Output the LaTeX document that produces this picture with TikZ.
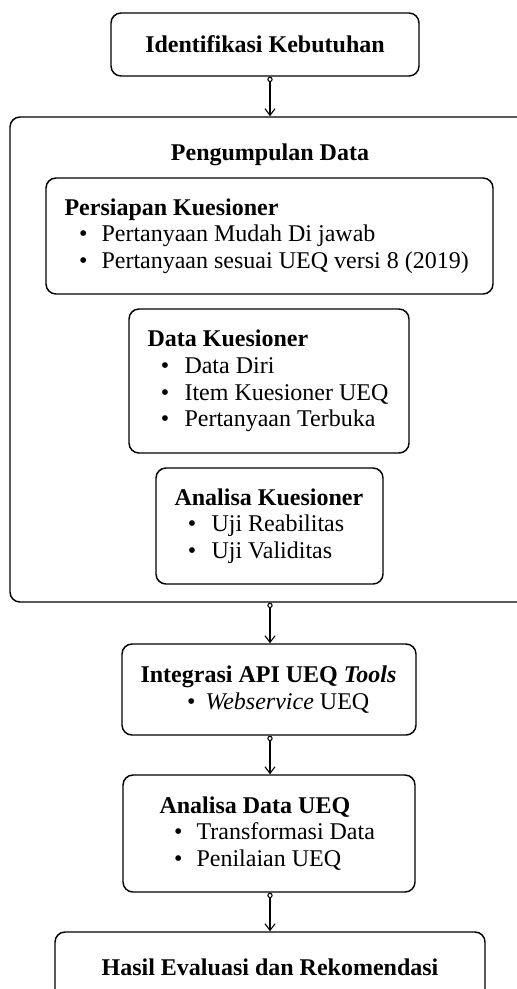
\documentclass[tikz,border=0pt]{standalone}
\usepackage{fontspec}
\setmainfont{Liberation Serif}
\usetikzlibrary{arrows.meta}

% bullet item: #1 text offset, #2 bullet indent, #3 text
\newcommand{\butir}[3][27.75pt]{\makebox[#1][l]{\hspace*{#2}\textbullet}#3}

\tikzset{
  kotak/.style={draw, rounded corners=7.5pt, line width=1.1pt, inner sep=0pt},
  isi/.style={align=left, anchor=west, inner sep=0pt, font=\fontsize{18}{20}\selectfont},
  judul/.style={font=\fontsize{18}{20}\selectfont\bfseries},
  konektor/.style={line width=0.8pt,
    {Circle[open,length=4pt,width=4pt]}-{Straight Barb[length=5pt,width=7.5pt]}}
}

\begin{document}
\begin{tikzpicture}[x=0.75pt,y=-0.75pt]
  % Page frame, cut like the reference
  \useasboundingbox (0,0) rectangle (517,989);
  \clip (0,0) rectangle (517,989);
  \coordinate (pusat) at (270,0);

  % Top box
  \node[kotak, judul, minimum width=231pt, minimum height=47.25pt]
    (ident) at (265,44.5) {Identifikasi Kebutuhan};

  % Big outer box with its title
  \node[kotak, minimum width=390pt, minimum height=363.75pt] (besar) at (270,359.5) {};
  \node[judul] (kumpul) at (270,155) {Pengumpulan Data};

  % Inner boxes of Pengumpulan Data
  \node[kotak, minimum width=335.25pt, minimum height=87pt] (persiapan) at (269.5,236) {};
  \node[isi] (persiapan-isi) at ([xshift=14.25pt]persiapan.west) {%
    \textbf{Persiapan Kuesioner}\\
    \butir{11pt}{Pertanyaan Mudah Di jawab}\\
    \butir{11pt}{Pertanyaan sesuai UEQ versi 8 (2019)}};

  \node[kotak, minimum width=210pt, minimum height=108pt] (datak) at (269,381) {};
  \node[isi] (datak-isi) at ([xshift=14.25pt]datak.west) {%
    \textbf{Data Kuesioner}\\
    \butir{10pt}{Data Diri}\\
    \butir{10pt}{Item Kuesioner UEQ}\\
    \butir{10pt}{Pertanyaan Terbuka}};

  \node[kotak, minimum width=170.25pt, minimum height=87pt] (analisak) at (269.5,526) {};
  \node[isi] (analisak-isi) at ([xshift=14.25pt]analisak.west) {%
    \textbf{Analisa Kuesioner}\\
    \butir{10pt}{Uji Reabilitas}\\
    \butir{10pt}{Uji Validitas}};

  % Lower boxes
  \node[kotak, minimum width=220.5pt, minimum height=68.25pt] (integrasi) at (269,689.5) {};
  \node[isi] (integrasi-isi) at ([xshift=14.25pt]integrasi.west) {%
    \textbf{Integrasi API UEQ \textit{Tools}}\\
    \butir[48.75pt]{35pt}{\textit{Webservice} UEQ}};

  \node[kotak, minimum width=219pt, minimum height=87.75pt] (analisad) at (269,833.5) {};
  \node[isi] (analisad-isi) at ([xshift=27.75pt]analisad.west) {%
    \textbf{Analisa Data UEQ}\\
    \butir{11pt}{Transformasi Data}\\
    \butir{11pt}{Penilaian UEQ}};

  \node[kotak, judul, minimum width=322.5pt, minimum height=52.5pt]
    (hasil) at (270,967) {Hasil Evaluasi dan Rekomendasi};

  % Connectors
  \draw[konektor] (ident.south -| pusat) -- (besar.north -| pusat);
  \draw[konektor] (besar.south -| pusat) -- (integrasi.north -| pusat);
  \draw[konektor] (integrasi.south -| pusat) -- (analisad.north -| pusat);
  \draw[konektor] (analisad.south -| pusat) -- (hasil.north -| pusat);
\end{tikzpicture}
\end{document}
